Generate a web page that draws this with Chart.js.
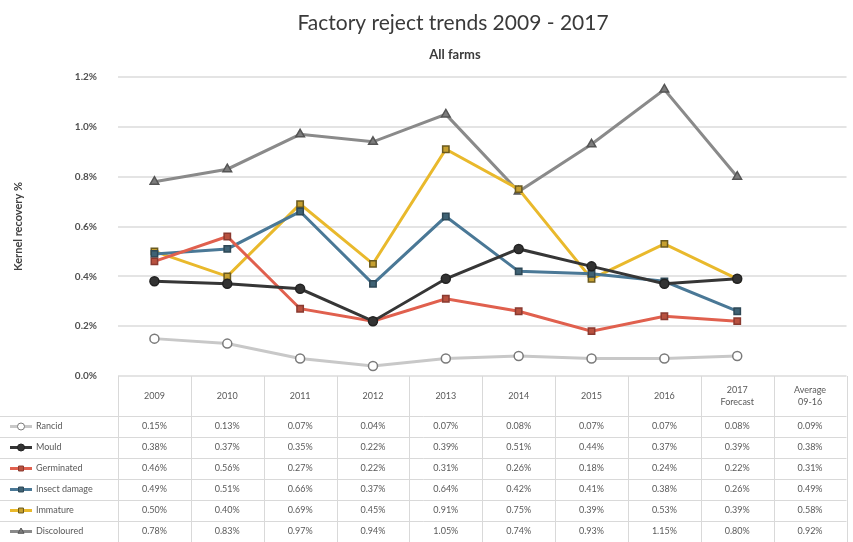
<!DOCTYPE html>
<html>
<head>
<meta charset="utf-8">
<script src="https://cdn.jsdelivr.net/npm/chart.js@4.4.0/dist/chart.umd.min.js"></script>
<style>
  body { margin: 0; background: #fff; }
  canvas { display: block; }
</style>
</head>
<body>
<canvas id="rejectChart" width="853" height="542"></canvas>
<script>
// columns of the chart / data table
const categories = ['2009', '2010', '2011', '2012', '2013', '2014', '2015', '2016',
  ['2017', 'Forecast'], ['Average', '09-16']];
const yTicks = [0, 0.2, 0.4, 0.6, 0.8, 1.0, 1.2];

// reject % per year (2009 - 2017 forecast)
const rancid      = [0.15, 0.13, 0.07, 0.04, 0.07, 0.08, 0.07, 0.07, 0.08];
const mould       = [0.38, 0.37, 0.35, 0.22, 0.39, 0.51, 0.44, 0.37, 0.39];
const germinated  = [0.46, 0.56, 0.27, 0.22, 0.31, 0.26, 0.18, 0.24, 0.22];
const insectDmg   = [0.49, 0.51, 0.66, 0.37, 0.64, 0.42, 0.41, 0.38, 0.26];
const immature    = [0.50, 0.40, 0.69, 0.45, 0.91, 0.75, 0.39, 0.53, 0.39];
const discoloured = [0.78, 0.83, 0.97, 0.94, 1.05, 0.74, 0.93, 1.15, 0.80];

// last table column (average 2009-16)
const averages = [0.09, 0.38, 0.31, 0.49, 0.58, 0.92];

const FONT = 'Lato, "Open Sans", sans-serif';

const seriesList = [
  { label: 'Rancid',        data: rancid,      line: '#c8c8c8', fill: '#ffffff', edge: '#7a7a7a', shape: 'circle' },
  { label: 'Mould',         data: mould,       line: '#363636', fill: '#333333', edge: '#222222', shape: 'circle' },
  { label: 'Germinated',    data: germinated,  line: '#e0604e', fill: '#b8513f', edge: '#8a3a30', shape: 'rect' },
  { label: 'Insect damage', data: insectDmg,   line: '#4a7896', fill: '#3f6274', edge: '#2e4856', shape: 'rect' },
  { label: 'Immature',      data: immature,    line: '#e9b92c', fill: '#c6a030', edge: '#6b5a1e', shape: 'rect' },
  { label: 'Discoloured',   data: discoloured, line: '#8a8a8a', fill: '#7c7c7c', edge: '#555555', shape: 'triangle' }
];

// title, subtitle and the data table under the plot
const tablePlugin = {
  id: 'dataTable',
  afterDraw(chart) {
    const ctx = chart.ctx;
    const x = chart.scales.x;
    const area = chart.chartArea;
    const colW = (area.right - area.left) / categories.length;
    const top = area.bottom;
    const headBottom = top + 40;
    const rowH = 21;

    ctx.save();
    // titles
    ctx.fillStyle = '#3a3a3a';
    ctx.textAlign = 'center';
    ctx.textBaseline = 'middle';
    ctx.font = '21px ' + FONT;
    ctx.fillText('Factory reject trends 2009 - 2017', 453, 23);
    ctx.font = 'bold 13px ' + FONT;
    ctx.fillText('All farms', 455, 55);

    // grid of the table
    ctx.strokeStyle = '#d9d9d9';
    ctx.lineWidth = 1;
    for (let i = 0; i <= categories.length; i++) {
      const lx = Math.round(area.left + i * colW) + 0.5;
      ctx.beginPath();
      ctx.moveTo(lx, top);
      ctx.lineTo(lx, chart.height);
      ctx.stroke();
    }
    for (let r = 0; r <= seriesList.length; r++) {
      const ly = Math.round(headBottom + r * rowH) + 0.5;
      ctx.beginPath();
      ctx.moveTo(0, ly);
      ctx.lineTo(area.right, ly);
      ctx.stroke();
    }

    // header
    ctx.fillStyle = '#595959';
    ctx.font = '9px ' + FONT;
    categories.forEach((c, i) => {
      const cx = x.getPixelForValue(i);
      const lines = Array.isArray(c) ? c : [c];
      const y0 = top + 20 - (lines.length - 1) * 6;
      lines.forEach((t, k) => ctx.fillText(t, cx, y0 + k * 12));
    });

    // rows
    seriesList.forEach((s, r) => {
      const cy = headBottom + r * rowH + rowH / 2;
      // legend key: line + marker
      ctx.strokeStyle = s.line;
      ctx.lineWidth = 3;
      ctx.beginPath();
      ctx.moveTo(10, cy);
      ctx.lineTo(32, cy);
      ctx.stroke();
      ctx.fillStyle = s.fill;
      ctx.strokeStyle = s.edge;
      ctx.lineWidth = 1;
      Chart.helpers.drawPoint(ctx, { pointStyle: s.shape, radius: 3.5, borderWidth: 1, rotation: 0 }, 21, cy);

      ctx.fillStyle = '#595959';
      ctx.textAlign = 'left';
      ctx.fillText(s.label, 36, cy);
      ctx.textAlign = 'center';
      categories.forEach((c, i) => {
        const v = i < s.data.length ? s.data[i] : averages[r];
        ctx.fillText(v.toFixed(2) + '%', x.getPixelForValue(i), cy);
      });
    });
    ctx.restore();
  }
};

new Chart(document.getElementById('rejectChart'), {
  type: 'line',
  data: {
    labels: categories,
    datasets: seriesList.map(s => ({
      label: s.label,
      data: s.data,
      borderColor: s.line,
      borderWidth: 3,
      pointStyle: s.shape,
      pointRadius: s.shape === 'triangle' ? 5 : 4.5,
      pointBackgroundColor: s.fill,
      pointBorderColor: s.edge,
      pointBorderWidth: 1.5,
      tension: 0
    }))
  },
  options: {
    responsive: false,
    animation: false,
    layout: { padding: { top: 77, right: 2, left: 0, bottom: 0 } },
    plugins: {
      legend: { display: false },
      tooltip: { enabled: false }
    },
    scales: {
      x: {
        offset: true,
        grid: { display: false },
        border: { display: false },
        ticks: { display: false },
        afterFit: (scale) => { scale.height = 166; }
      },
      y: {
        min: 0,
        max: 1.2,
        afterBuildTicks: (scale) => { scale.ticks = yTicks.map(v => ({ value: v })); },
        afterFit: (scale) => { scale.width = 118; },
        grid: { color: '#e4e4e4', lineWidth: 2, drawTicks: false },
        border: { display: false },
        ticks: {
          padding: 21,
          color: '#505050',
          font: { family: FONT, size: 10, weight: 'bold' },
          callback: (v) => v.toFixed(1) + '%'
        },
        title: {
          display: true,
          text: 'Kernel recovery %',
          color: '#404040',
          padding: { top: 12, bottom: 0 },
          font: { family: FONT, size: 11, weight: 'bold' }
        }
      }
    }
  },
  plugins: [tablePlugin]
});
</script>
</body>
</html>
